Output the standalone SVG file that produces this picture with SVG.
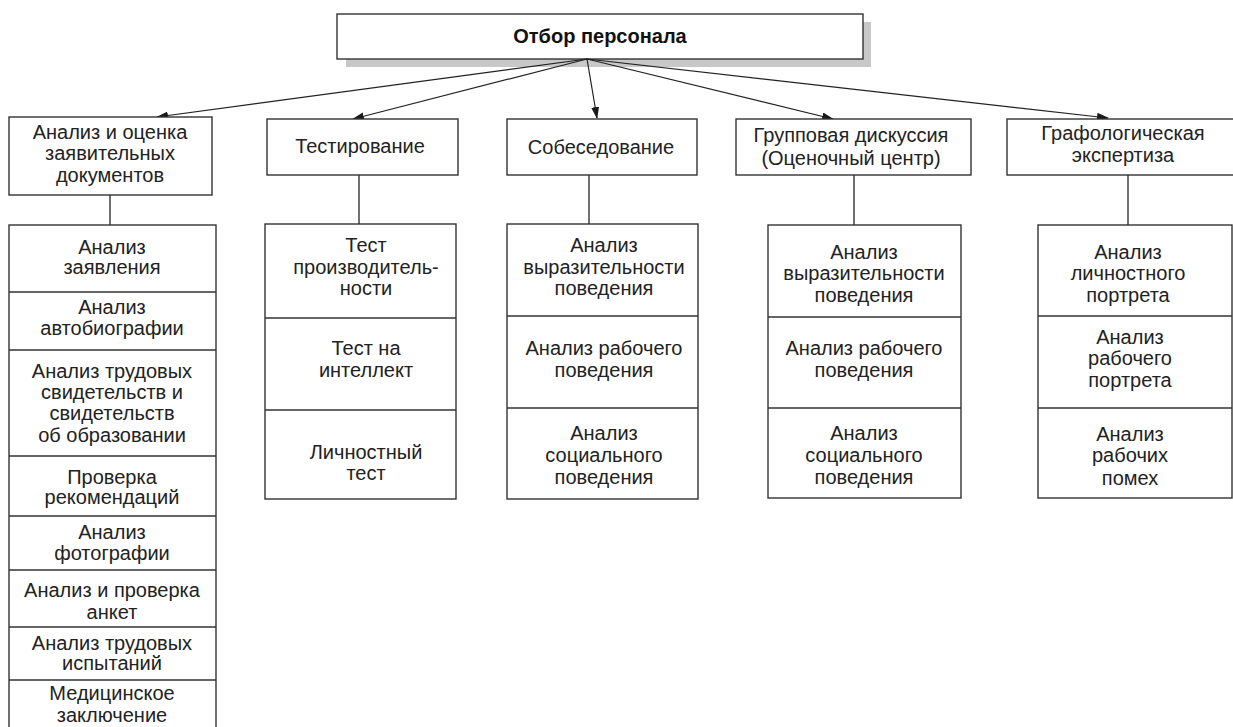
<svg xmlns="http://www.w3.org/2000/svg" width="1233" height="727" viewBox="0 0 1233 727">
<defs>
<marker id="ah" markerWidth="12" markerHeight="8" refX="11" refY="4" orient="auto" markerUnits="userSpaceOnUse">
<path d="M0,0 L12,4 L0,8 Z" fill="#1a1a1a"/>
</marker>
</defs>
<style>
.box{fill:#fff;stroke:#333;stroke-width:1.4}
.div{stroke:#333;stroke-width:1.4}
.t{font-family:"Liberation Sans",Arial,sans-serif;font-size:20px;fill:#222;text-anchor:middle}
.tb{font-family:"Liberation Sans",Arial,sans-serif;font-size:20px;font-weight:bold;fill:#111;text-anchor:middle}
.arr{stroke:#222;stroke-width:1.2;fill:none;marker-end:url(#ah)}
.ln{stroke:#333;stroke-width:1.4;fill:none}
</style>
<rect width="1233" height="727" fill="#fff"/>

<g id="root">
<rect x="346" y="22" width="525" height="45" fill="#c8c8c8"/>
<rect class="box" x="337" y="14" width="526" height="45"/>
<text class="tb" x="600" y="43">Отбор персонала</text>
</g>

<g id="connectors">
<line class="arr" x1="587" y1="59" x2="157" y2="117"/>
<line class="arr" x1="587" y1="59" x2="353" y2="119"/>
<line class="arr" x1="587" y1="59" x2="597" y2="118"/>
<line class="arr" x1="587" y1="59" x2="833" y2="119"/>
<line class="arr" x1="587" y1="59" x2="1108" y2="118"/>
<line class="ln" x1="110" y1="195" x2="110" y2="225"/>
<line class="ln" x1="359" y1="175" x2="359" y2="224"/>
<line class="ln" x1="589" y1="175" x2="589" y2="224"/>
<line class="ln" x1="854" y1="175" x2="854" y2="225"/>
<line class="ln" x1="1128" y1="175" x2="1128" y2="225"/>
</g>

<g id="docs">
<rect class="box" x="9" y="117" width="203" height="78"/>
<text class="t"><tspan x="110" y="139">Анализ и оценка</tspan><tspan x="110" y="160">заявительных</tspan><tspan x="110" y="182">документов</tspan></text>
</g>
<g id="testing">
<rect class="box" x="267" y="119" width="191" height="56"/>
<text class="t" x="360" y="153">Тестирование</text>
</g>
<g id="interview">
<rect class="box" x="507" y="119" width="190" height="56"/>
<text class="t" x="601" y="154">Собеседование</text>
</g>
<g id="group">
<rect class="box" x="736" y="119" width="235" height="56"/>
<text class="t"><tspan x="851" y="142">Групповая дискуссия</tspan><tspan x="851" y="165">(Оценочный центр)</tspan></text>
</g>
<g id="grapho">
<rect class="box" x="1007" y="119" width="230" height="56"/>
<text class="t"><tspan x="1123" y="140">Графологическая</tspan><tspan x="1123" y="162">экспертиза</tspan></text>
</g>

<g id="docs-list">
<rect class="box" x="9" y="225" width="207" height="520"/>
<line class="div" x1="9" y1="292" x2="216" y2="292"/>
<line class="div" x1="9" y1="350" x2="216" y2="350"/>
<line class="div" x1="9" y1="456" x2="216" y2="456"/>
<line class="div" x1="9" y1="516" x2="216" y2="516"/>
<line class="div" x1="9" y1="570" x2="216" y2="570"/>
<line class="div" x1="9" y1="627" x2="216" y2="627"/>
<line class="div" x1="9" y1="680" x2="216" y2="680"/>
<text class="t"><tspan x="112" y="254">Анализ</tspan><tspan x="112" y="274">заявления</tspan></text>
<text class="t"><tspan x="112" y="314">Анализ</tspan><tspan x="112" y="335">автобиографии</tspan></text>
<text class="t"><tspan x="112" y="378">Анализ трудовых</tspan><tspan x="112" y="399">свидетельств и</tspan><tspan x="112" y="420">свидетельств</tspan><tspan x="112" y="442">об образовании</tspan></text>
<text class="t"><tspan x="112" y="484">Проверка</tspan><tspan x="112" y="504">рекомендаций</tspan></text>
<text class="t"><tspan x="112" y="539">Анализ</tspan><tspan x="112" y="560">фотографии</tspan></text>
<text class="t"><tspan x="112" y="597">Анализ и проверка</tspan><tspan x="112" y="619">анкет</tspan></text>
<text class="t"><tspan x="112" y="650">Анализ трудовых</tspan><tspan x="112" y="670">испытаний</tspan></text>
<text class="t"><tspan x="112" y="700">Медицинское</tspan><tspan x="112" y="722">заключение</tspan></text>
</g>

<g id="testing-list">
<rect class="box" x="265" y="224" width="191" height="275"/>
<line class="div" x1="265" y1="318" x2="456" y2="318"/>
<line class="div" x1="265" y1="410" x2="456" y2="410"/>
<text class="t"><tspan x="366" y="252">Тест</tspan><tspan x="366" y="274">производитель-</tspan><tspan x="366" y="295">ности</tspan></text>
<text class="t"><tspan x="366" y="355">Тест на</tspan><tspan x="366" y="377">интеллект</tspan></text>
<text class="t"><tspan x="366" y="459">Личностный</tspan><tspan x="366" y="480">тест</tspan></text>
</g>

<g id="interview-list">
<rect class="box" x="507" y="224" width="191" height="275"/>
<line class="div" x1="507" y1="316" x2="698" y2="316"/>
<line class="div" x1="507" y1="408" x2="698" y2="408"/>
<text class="t"><tspan x="604" y="252">Анализ</tspan><tspan x="604" y="274">выразительности</tspan><tspan x="604" y="295">поведения</tspan></text>
<text class="t"><tspan x="604" y="355">Анализ рабочего</tspan><tspan x="604" y="377">поведения</tspan></text>
<text class="t"><tspan x="604" y="440">Анализ</tspan><tspan x="604" y="462">социального</tspan><tspan x="604" y="484">поведения</tspan></text>
</g>

<g id="group-list">
<rect class="box" x="768" y="225" width="193" height="273"/>
<line class="div" x1="768" y1="317" x2="961" y2="317"/>
<line class="div" x1="768" y1="408" x2="961" y2="408"/>
<text class="t"><tspan x="864" y="259">Анализ</tspan><tspan x="864" y="280">выразительности</tspan><tspan x="864" y="302">поведения</tspan></text>
<text class="t"><tspan x="864" y="355">Анализ рабочего</tspan><tspan x="864" y="377">поведения</tspan></text>
<text class="t"><tspan x="864" y="440">Анализ</tspan><tspan x="864" y="462">социального</tspan><tspan x="864" y="484">поведения</tspan></text>
</g>

<g id="grapho-list">
<rect class="box" x="1038" y="225" width="194" height="273"/>
<line class="div" x1="1038" y1="316" x2="1232" y2="316"/>
<line class="div" x1="1038" y1="408" x2="1232" y2="408"/>
<text class="t"><tspan x="1128" y="259">Анализ</tspan><tspan x="1128" y="280">личностного</tspan><tspan x="1128" y="302">портрета</tspan></text>
<text class="t"><tspan x="1130" y="344">Анализ</tspan><tspan x="1130" y="365">рабочего</tspan><tspan x="1130" y="387">портрета</tspan></text>
<text class="t"><tspan x="1130" y="441">Анализ</tspan><tspan x="1130" y="462">рабочих</tspan><tspan x="1130" y="485">помех</tspan></text>
</g>
</svg>
